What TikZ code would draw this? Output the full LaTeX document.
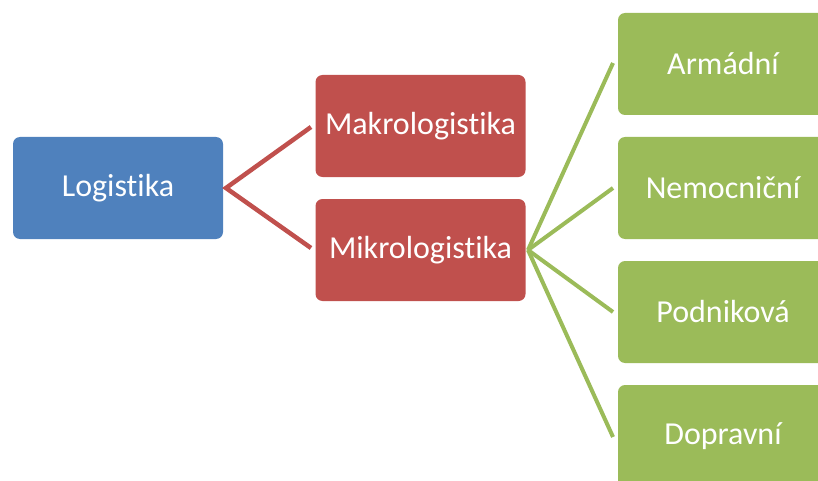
\documentclass[tikz,border=0pt]{standalone}
\usepackage{fontspec}
\setmainfont[Ligatures={NoCommon}]{Carlito}
\definecolor{boxblue}{HTML}{4F81BD}
\definecolor{boxred}{HTML}{C0504D}
\definecolor{boxgreen}{HTML}{9BBB59}
\begin{document}
\begin{tikzpicture}[x=1pt,y=-1pt,
  box/.style={rectangle, rounded corners=7pt, minimum width=210pt, minimum height=102pt,
    inner sep=0pt, text=white, font=\fontsize{32}{36}\selectfont},
  root/.style={box, fill=boxblue},
  mid/.style={box, fill=boxred},
  leaf/.style={box, fill=boxgreen},
  redlink/.style={draw=boxred, line width=4.5pt},
  greenlink/.style={draw=boxgreen, line width=4pt}]
\useasboundingbox (0,0) rectangle (818,481);
% nodes
\node[root] (log) at (118,188) {Logistika};
\node[mid] (makro) at (420.5,126) {Makrologistika};
\node[mid] (mikro) at (420.5,250) {Mikrologistika};
\node[leaf] (arm) at (723,64) {Armádní};
\node[leaf] (nem) at (723,188) {Nemocniční};
\node[leaf] (pod) at (723,312) {Podniková};
\node[leaf] (dop) at (723,436) {Dopravní};
% connector hubs
\coordinate (hubA) at (226,188);
\coordinate (hubB) at (528,250);
\coordinate (makroIn) at (311,127);
\coordinate (mikroIn) at (311,248);
\coordinate (armIn) at (613,63);
\coordinate (nemIn) at (613,188);
\coordinate (podIn) at (613,312);
\coordinate (dopIn) at (613,437);
\draw[redlink] (makroIn) -- (hubA) -- (mikroIn);
\draw[greenlink] (hubB) -- (armIn);
\draw[greenlink] (hubB) -- (nemIn);
\draw[greenlink] (hubB) -- (podIn);
\draw[greenlink] (hubB) -- (dopIn);
\end{tikzpicture}
\end{document}
